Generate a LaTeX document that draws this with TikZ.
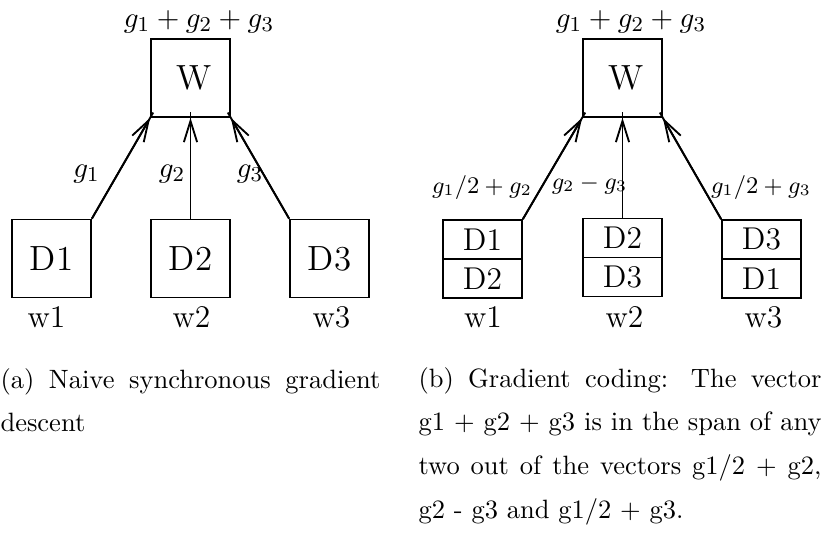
\documentclass[tikz,border=0pt]{standalone}
\usetikzlibrary{arrows.meta,calc}
\begin{document}
\begin{tikzpicture}[x=0.37736pt,y=-0.37736pt,
  box/.style={draw,line width=0.65pt,minimum width=29.8pt,minimum height=29.4pt,inner sep=0pt,font=\fontsize{13.2}{15}\selectfont},
  cell/.style={draw,line width=0.65pt,minimum width=29.8pt,minimum height=14.7pt,inner sep=0pt,font=\fontsize{11.9}{14}\selectfont},
  wlab/.style={anchor=base,inner sep=0pt,font=\fontsize{11.9}{14}\selectfont},
  glab/.style={anchor=base,inner sep=0pt,font=\fontsize{10.75}{13}\selectfont},
  slab/.style={anchor=base,inner sep=0pt,font=\fontsize{8.6}{10}\selectfont},
  edge/.style={line width=0.7pt},
  arr/.style={edge,-{Straight Barb[length=8pt,width=5pt]}},
  capt/.style={anchor=base west,inner sep=0pt,align=justify,font=\fontsize{10}{16.5}\selectfont}]
\useasboundingbox (0,0) rectangle (824,537);

% ---------- panel (a) ----------
\node[box] (Wa) at (190.5,78) {\kern3pt W};
\node[glab] (suma) at (199,27) {$g_1+g_2+g_3$};
\node[box] (Da1) at (51.5,258.5) {D1};
\node[box] (Da2) at (190.5,258.5) {D2};
\node[box] (Da3) at (329.5,258.5) {D3};
\node[wlab] (wa1) at (46.5,327) {w1};
\node[wlab] (wa2) at (191.5,327) {w2};
\node[wlab] (wa3) at (331.5,327) {w3};

\draw[edge] (Da1.north east) -- ($(Wa.south west)!-2.3pt!(Da1.north east)$);
\draw[arr] (Da1.north east) -- (Wa.south west);
\draw[edge] (Da2.north) -- ($(Wa.south)!-2.3pt!(Da2.north)$);
\draw[arr] (Da2.north) -- (Wa.south);
\draw[edge] (Da3.north west) -- ($(Wa.south east)!-2.3pt!(Da3.north west)$);
\draw[arr] (Da3.north west) -- (Wa.south east);

\node[glab] (ga1) at (86.5,177) {$g_1$};
\node[glab] (ga2) at (172,177) {$g_2$};
\node[glab] (ga3) at (250,177) {$g_3$};

% ---------- panel (b) ----------
\node[box] (Wb) at (622.5,78) {\kern3pt W};
\node[glab] (sumb) at (631,27) {$g_1+g_2+g_3$};

\node[cell] (s1a) at (482.5,239.5) {D1};
\node[cell] (s1b) at (482.5,278.5) {D2};
\node[cell] (s2a) at (622.5,238) {D2};
\node[cell] (s2b) at (622.5,277) {D3};
\node[cell] (s3a) at (761.5,239.5) {D3};
\node[cell] (s3b) at (761.5,278.5) {D1};

\node[wlab] (wb1) at (483,327) {w1};
\node[wlab] (wb2) at (624.5,327) {w2};
\node[wlab] (wb3) at (763.5,327) {w3};

\draw[edge] (s1a.north east) -- ($(Wb.south west)!-2.3pt!(s1a.north east)$);
\draw[arr] (s1a.north east) -- (Wb.south west);
\draw[edge] (s2a.north) -- ($(Wb.south)!-2.3pt!(s2a.north)$);
\draw[arr] (s2a.north) -- (Wb.south);
\draw[edge] (s3a.north west) -- ($(Wb.south east)!-2.3pt!(s3a.north west)$);
\draw[arr] (s3a.north west) -- (Wb.south east);

\node[slab] (gb1) at (482,193) {$g_1/2+g_2$};
\node[slab] (gb2) at (589.5,189) {$g_2-g_3$};
\node[slab] (gb3) at (761,193) {$g_1/2+g_3$};

% ---------- captions ----------
\node[capt,text width=143.4pt] (capa) at (0,388) {(a) Naive synchronous gradient\linebreak descent};
\node[capt,text width=152.1pt] (capb) at (418,387) {(b) Gradient coding: The vector\linebreak g1 + g2 + g3 is in the span of any\linebreak two out of the vectors g1/2 + g2,\linebreak g2 - g3 and g1/2 + g3.};
\end{tikzpicture}
\end{document}
